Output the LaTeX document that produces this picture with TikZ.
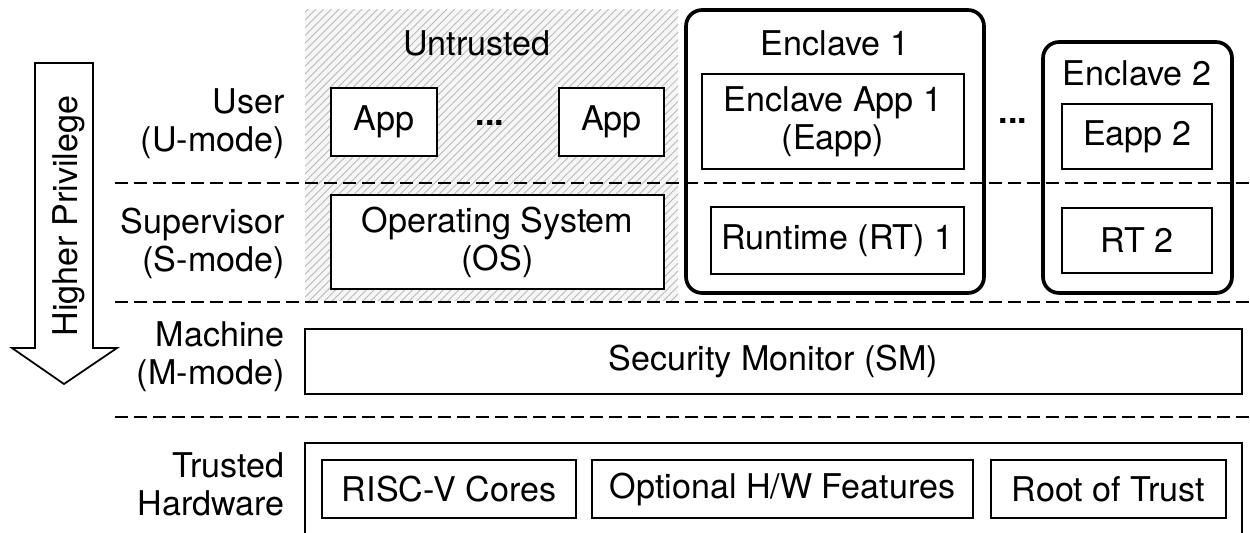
\documentclass[tikz,border=0pt]{standalone}
\usepackage{fontspec}
\setmainfont{TeX Gyre Heros}
\usetikzlibrary{positioning,patterns.meta}

\begin{document}
\begin{tikzpicture}[x=0.02cm, y=-0.02cm,
    every node/.style={font=\fontsize{19.4}{21.6}\selectfont},
    box/.style={draw=black, line width=1pt, fill=white, inner sep=0pt, align=center},
    enclave/.style={draw=black, line width=2.1pt, rounded corners=0.32cm, inner sep=0pt},
    level/.style={draw=black, line width=1.2pt, dash pattern=on 0.26cm off 0.12cm},
    mode/.style={anchor=east, align=right, inner sep=0pt}]
    \clip (0,0) rectangle (1250,533);

    % untrusted side
    \fill[gray!7] (305,10) rectangle (678,301);
    \fill[pattern={Lines[angle=45,distance=3.1pt,line width=0.5pt]}, pattern color=gray!55] (305,10) rectangle (678,301);

    % privilege levels
    \draw[level] (115,183) -- (1250,183);
    \draw[level] (115,302) -- (1250,302);
    \draw[level] (115,417) -- (1250,417);

    \node (user) [mode] at (285,124) {User\\(U-mode)};
    \node (supervisor) [mode] at (285,243) {Supervisor\\(S-mode)};
    \node (machine) [mode] at (285,357) {Machine\\(M-mode)};
    \node (trusted) [mode] at (285,484) {Trusted\\Hardware};

    % privilege arrow
    \draw[line width=1pt, line join=miter] (35,63) -- (93,63) -- (93,348) -- (117,348) -- (64,384) -- (12,348) -- (35,348) -- cycle;
    \node (privilege) [rotate=90, anchor=base, inner sep=0pt] at (77,216) {Higher Privilege};

    % untrusted
    \node (untrusted) at (477,43) {Untrusted};
    \node (app1) [box, minimum width=2.12cm, minimum height=1.36cm] at (384,122) {App};
    \node (dots1) [anchor=base, inner sep=0pt] at (490,126) {\textbf{...}};
    \node (app2) [box, minimum width=2.1cm, minimum height=1.36cm] at (611.5,122) {App};
    \node (os) [box, minimum width=6.66cm, minimum height=1.88cm] at (497.5,242) {Operating System\\(OS)};

    % enclaves
    \node (enclave1) [enclave, minimum width=5.96cm, minimum height=5.66cm] at (835,151.5) {};
    \node (enclave1 label) at (835,43) {Enclave 1};
    \node (eapp1) [box, minimum width=5.24cm, minimum height=1.9cm] at (833,121.5) {Enclave App 1\\(Eapp)};
    \node (rt1) [box, minimum width=5.06cm, minimum height=1.34cm] at (837.5,240.5) {Runtime (RT) 1};

    \node (dots2) [anchor=base, inner sep=0pt] at (1013,124) {\textbf{...}};

    \node (enclave2) [enclave, minimum width=3.78cm, minimum height=5.02cm] at (1137.5,167.5) {};
    \node (enclave2 label) at (1137,73) {Enclave 2};
    \node (eapp2) [box, minimum width=3cm, minimum height=1.3cm] at (1137,136.5) {Eapp 2};
    \node (rt2) [box, minimum width=3cm, minimum height=1.3cm] at (1137,240.5) {RT 2};

    % monitor and hardware
    \node (sm) [box, minimum width=18.74cm, minimum height=1.3cm] at (773.5,361.5) {Security Monitor (SM)};
    \node (hw) [box, minimum width=18.74cm, minimum height=2.34cm] at (773.5,501.5) {};
    \node (risc) [box, minimum width=5.08cm, minimum height=1.16cm] at (449,489) {RISC-V Cores};
    \node (opt) [box, minimum width=7.62cm, minimum height=1.16cm] at (782.5,489) {Optional H/W Features};
    \node (rot) [box, minimum width=4.7cm, minimum height=1.16cm] at (1108.5,489) {Root of Trust};
\end{tikzpicture}
\end{document}
